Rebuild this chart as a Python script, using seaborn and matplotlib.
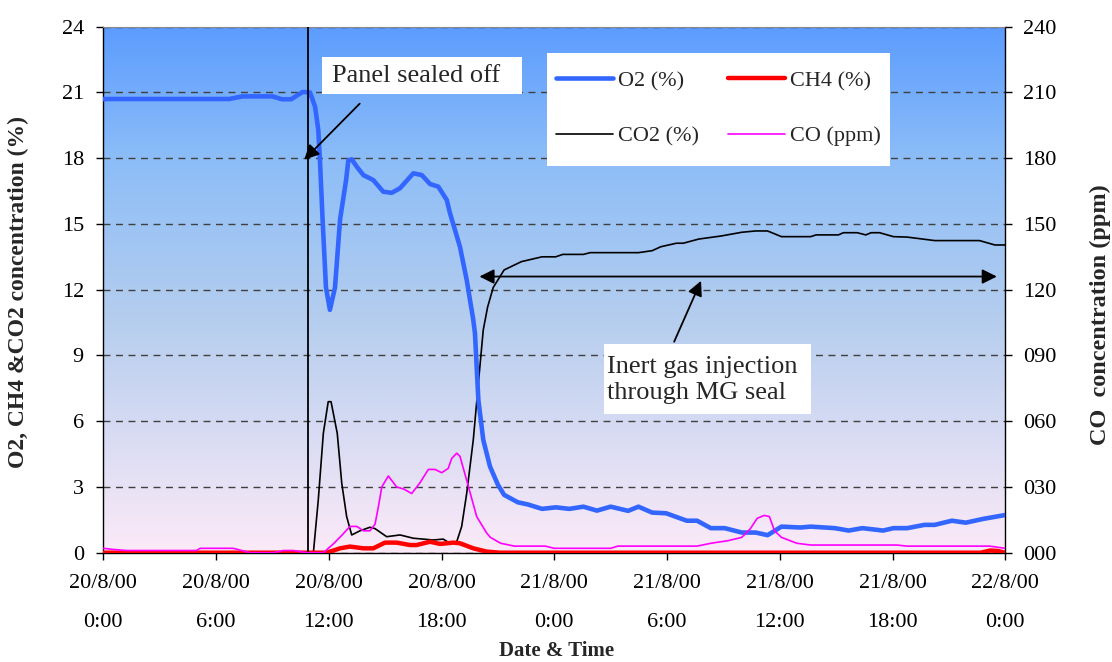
import numpy as np
import matplotlib
matplotlib.use("Agg")
import matplotlib.pyplot as plt
import seaborn as sns
from matplotlib.colors import LinearSegmentedColormap
from matplotlib.patches import Rectangle

# ---------------- data (hours since 20/8/00 0:00) ----------------
x_tick_hours = [0, 6, 12, 18, 24, 30, 36, 42, 48]
x_tick_labels = ["20/8/00\n0:00", "20/8/00\n6:00", "20/8/00\n12:00", "20/8/00\n18:00",
                 "21/8/00\n0:00", "21/8/00\n6:00", "21/8/00\n12:00", "21/8/00\n18:00",
                 "22/8/00\n0:00"]
left_ticks = [0, 3, 6, 9, 12, 15, 18, 21, 24]
right_ticks = [0, 30, 60, 90, 120, 150, 180, 210, 240]

o2_hours = [0, 6.7, 7.4, 9.0, 9.5, 10.0, 10.6, 11.0, 11.27, 11.44, 11.53, 11.67, 11.85, 12.06,
            12.33, 12.6, 12.92, 13.04, 13.22, 13.5, 13.84, 14.37, 14.9, 15.35, 15.79, 16.5,
            16.95, 17.39, 17.83, 18.28, 18.45, 18.98, 19.34, 19.69, 19.78, 19.96, 20.22, 20.58,
            21.0, 21.33, 22.06, 22.6, 23.35, 24.08, 24.8, 25.55, 26.27, 27.0, 27.93, 28.48,
            29.21, 29.95, 31.05, 31.6, 32.33, 33.07, 33.98, 34.72, 35.35, 36.09, 37.1, 37.65,
            38.93, 39.67, 40.4, 41.5, 42.05, 42.78, 43.7, 44.25, 45.16, 45.9, 46.81, 48.0]
o2_values = [20.7, 20.7, 20.82, 20.82, 20.69, 20.69, 21.02, 21.0, 20.35, 19.3, 17.9, 15.2, 12.1,
             11.08, 12.1, 15.2, 17.0, 17.9, 17.95, 17.6, 17.23, 17.0, 16.47, 16.42, 16.63, 17.31,
             17.23, 16.82, 16.7, 16.09, 15.49, 13.96, 12.44, 10.62, 10.0, 6.97, 5.15, 3.93,
             3.1, 2.64, 2.30, 2.2, 2.0, 2.07, 2.0, 2.10, 1.92, 2.10, 1.91, 2.10,
             1.83, 1.80, 1.46, 1.46, 1.12, 1.12, 0.92, 0.92, 0.80, 1.19, 1.15, 1.19,
             1.12, 1.01, 1.12, 1.01, 1.12, 1.12, 1.27, 1.27, 1.46, 1.37, 1.54, 1.72]

co2_hours = [0, 11.18, 11.44, 11.71, 11.97, 12.12, 12.45, 12.69, 12.95, 13.22, 13.66, 14.19,
             14.46, 15.08, 15.79, 16.5, 17.56, 18.09, 18.36, 18.8, 19.07, 19.34, 19.69, 19.96,
             20.22, 20.45, 20.75, 21.33, 22.25, 23.35, 24.08, 24.45, 25.55, 25.91, 28.48, 29.21,
             29.67, 30.5, 30.86, 31.69, 32.88, 33.98, 34.72, 35.35, 36.09, 37.65, 37.93, 39.12,
             39.39, 40.12, 40.58, 40.86, 41.31, 42.05, 42.78, 44.25, 46.63, 47.45, 48.0]
co2_values = [0, 0, 2.4, 5.45, 6.89, 6.89, 5.45, 3.17, 1.65, 0.81, 1.0, 1.16,
              1.1, 0.73, 0.81, 0.66, 0.58, 0.62, 0.48, 0.48, 1.19, 2.71, 5.15, 7.73,
              10.16, 11.2, 12.1, 12.9, 13.28, 13.5, 13.5, 13.61, 13.61, 13.69, 13.69, 13.78,
              13.96, 14.12, 14.12, 14.31, 14.45, 14.62, 14.68, 14.68, 14.42, 14.42, 14.5, 14.5,
              14.6, 14.6, 14.5, 14.6, 14.6, 14.42, 14.4, 14.24, 14.24, 14.04, 14.04]

ch4_hours = [0, 11.89, 12.6, 13.13, 13.84, 14.37, 14.99, 15.61, 16.32, 16.67, 17.39, 17.92,
             18.63, 18.98, 19.69, 20.4, 21.1, 46.7, 47.2, 47.6, 48.0]
ch4_values = [0, 0, 0.2, 0.28, 0.2, 0.2, 0.46, 0.46, 0.35, 0.35, 0.5, 0.4,
              0.46, 0.43, 0.2, 0.05, 0, 0, 0.1, 0.08, 0]

co_hours = [0, 0.5, 1.25, 4.97, 5.15, 6.92, 7.81, 9.05, 9.58, 10.12, 10.82, 11.71, 12.24,
            12.7, 13.13, 13.49, 13.84, 14.19, 14.46, 14.64, 14.82, 15.17, 15.61, 16.0, 16.41,
            16.86, 17.3, 17.65, 18.01, 18.36, 18.54, 18.81, 18.98, 19.34, 19.87, 20.4, 20.6,
            21.15, 21.88, 23.53, 23.99, 27.0, 27.38, 31.6, 32.33, 33.25, 33.98, 34.44, 34.8,
            35.17, 35.45, 35.72, 36.09, 36.91, 37.65, 42.23, 42.78, 47.18, 48.0]
co_values = [2, 1.5, 1, 1, 2, 2, 0, 0, 1, 1, 0, 0, 4,
             8, 12, 12, 10, 10, 13, 21, 30, 35, 30, 29, 27,
             32, 38, 38, 36.5, 38.5, 43, 45.4, 44, 33, 16.5, 9, 7,
             4.3, 3, 3, 2, 2, 3, 3, 4.3, 5.5, 7, 11, 15.7,
             17, 16.5, 10, 7, 4.3, 3.5, 3.5, 3, 3, 2]

seal_hour = 10.9
injection_start, injection_end, injection_level = 19.87, 47.7, 12.6

# ---------------- style ----------------
sns.set_style("ticks")
plt.rcParams['font.family'] = ['Liberation Serif', 'DejaVu Serif']

W, H = 1112, 662
fig = plt.figure(figsize=(W / 100, H / 100), dpi=100)
ax = fig.add_axes([0.0929, 0.1651, 0.8111, 0.7946])

cmap = LinearSegmentedColormap.from_list(
    'bg', [(0.0, '#FCEAF8'), (0.45, '#B4CDEE'), (0.75, '#8CBDF8'), (1.0, '#5C9CFE')])
grad = np.linspace(0, 1, 256).reshape(-1, 1)
ax.imshow(grad, extent=[0, 48, 0, 24], origin='lower', aspect='auto', cmap=cmap, zorder=0)

sns.lineplot(x=co2_hours, y=co2_values, ax=ax, color='black', lw=1.2, zorder=3)
sns.lineplot(x=ch4_hours, y=ch4_values, ax=ax, color='#FF0000', lw=3.2, zorder=4)
sns.lineplot(x=o2_hours, y=o2_values, ax=ax, color='#3366FF', lw=3.3, zorder=5)
ax.axvline(seal_hour, color='black', lw=1.3, zorder=6)

ax.set_xlim(0, 48)
ax.set_ylim(0, 24)
ax.set_xticks(x_tick_hours)
ax.set_xticklabels(x_tick_labels)
for t in ax.get_xticklabels():
    t.set_linespacing(2.45)
ax.set_yticks(left_ticks)
ax.set_yticklabels([str(v) for v in left_ticks])
ax.yaxis.grid(True, linestyle=(0, (5, 4)), color='#404040', lw=1.0)
ax.set_axisbelow('line')
ax.tick_params(axis='y', direction='out', length=5, width=1, pad=9, labelsize=16, colors='black')
ax.tick_params(axis='x', direction='out', length=5, width=1, pad=10, labelsize=16, colors='black')

for s in ['left', 'right', 'bottom']:
    ax.spines[s].set_color('black')
    ax.spines[s].set_linewidth(1.0)
ax.spines['top'].set_color('#888888')

ax.set_xlabel("Date & Time", fontsize=15, fontweight='bold', va='center')
ax.xaxis.set_label_coords(0.502, -0.187)
ax.set_ylabel("O2, CH4 &CO2 concentration (%)", fontsize=17, fontweight='bold', va='center')
ax.yaxis.set_label_coords(-0.0946, 0.496)

ax2 = ax.twinx()
sns.lineplot(x=co_hours, y=co_values, ax=ax2, color='#FF00FF', lw=1.2)
ax2.set_ylim(0, 240)
ax2.set_yticks(right_ticks)
ax2.set_yticklabels([f"{v:03d}" for v in right_ticks])
ax2.tick_params(axis='y', direction='out', length=5, width=1, pad=8, labelsize=16, colors='black')
ax2.set_ylabel("CO  concentration (ppm)", fontsize=17.5, fontweight='bold', va='center', rotation=90)
ax2.yaxis.set_label_coords(1.105, 0.452)
for s in ax2.spines.values():
    s.set_visible(False)

# annotations (white panels behind the notes)
ax.add_patch(Rectangle((11.64, 20.93), 10.64, 1.69, fc='white', ec='none', zorder=7))
ax.text(12.19, 21.77, "Panel sealed off", fontsize=19, ha='left', va='center', zorder=8)
ax.annotate("", xy=(10.59, 17.84), xytext=(13.75, 20.58),
            arrowprops=dict(arrowstyle='-|>', color='black', lw=1.3, mutation_scale=22), zorder=7)
ax.annotate("", xy=(injection_start, injection_level), xytext=(injection_end, injection_level),
            arrowprops=dict(arrowstyle='<|-|>', color='black', lw=1.3, mutation_scale=22), zorder=7)
ax.annotate("", xy=(31.87, 12.52), xytext=(30.32, 9.51),
            arrowprops=dict(arrowstyle='-|>', color='black', lw=1.3, mutation_scale=22), zorder=7)
ax.add_patch(Rectangle((26.65, 6.33), 11.01, 3.19, fc='white', ec='none', zorder=7))
ax.text(26.81, 7.88, "Inert gas injection\nthrough MG seal", fontsize=19, ha='left', va='center',
        linespacing=1.25, zorder=8)

# legend on a white panel
ax2.add_patch(Rectangle((547 / W, 1 - 166 / H), 343 / W, 113 / H, transform=fig.transFigure,
                        fc='white', ec='none', zorder=9, clip_on=False))
lines = ax.get_lines()
handles = [lines[2], lines[0], lines[1], ax2.get_lines()[0]]
labels = ["O2 (%)", "CO2 (%)", "CH4 (%)", "CO (ppm)"]
leg = ax2.legend(handles, labels, ncol=2, loc='upper left',
                 bbox_to_anchor=(556 / W, 1 - 70.5 / H), bbox_transform=fig.transFigure,
                 frameon=False, fontsize=16, handlelength=2.57, handletextpad=0.23,
                 labelspacing=1.57, columnspacing=1.3, borderpad=0, borderaxespad=0)
leg.set_zorder(10)

fig.savefig("out.png", dpi=100)
